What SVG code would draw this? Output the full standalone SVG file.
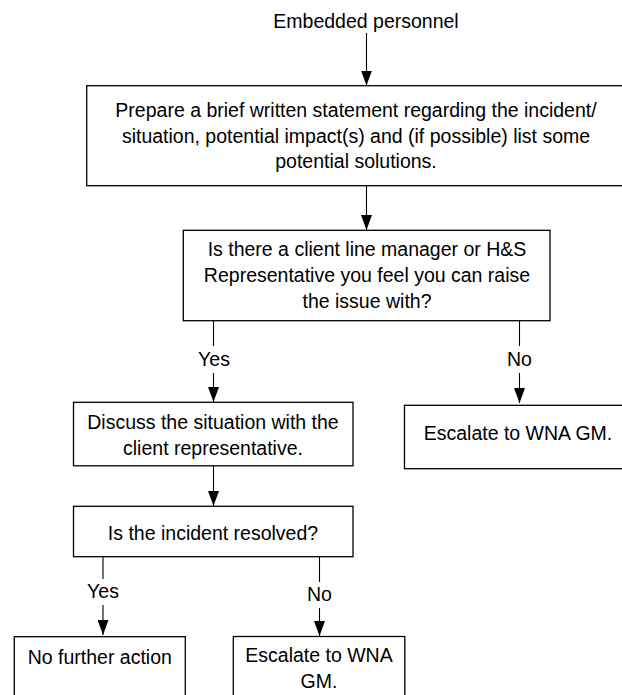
<svg xmlns="http://www.w3.org/2000/svg" width="622" height="695" viewBox="0 0 622 695">
<style>
text{font-family:"Liberation Sans",Arial,sans-serif;font-size:19.5px;fill:#000;text-anchor:middle}
.box{fill:#fff;stroke:#000;stroke-width:1.3}
.ln{stroke:#000;stroke-width:1.1;fill:none}
</style>
<defs>
<marker id="ah" viewBox="0 0 15 11" refX="15" refY="5.5" markerWidth="15" markerHeight="11" markerUnits="userSpaceOnUse" orient="auto">
<path d="M0,0 L15,5.5 L0,11 Z" fill="#000"/>
</marker>
</defs>
<rect width="622" height="695" fill="#fff"/>
<g id="connectors">
<line class="ln" x1="366.5" y1="33" x2="366.5" y2="85.5" marker-end="url(#ah)"/>
<line class="ln" x1="366.5" y1="186" x2="366.5" y2="230" marker-end="url(#ah)"/>
<line class="ln" x1="213.5" y1="321" x2="213.5" y2="346"/>
<line class="ln" x1="213.5" y1="373" x2="213.5" y2="402" marker-end="url(#ah)"/>
<line class="ln" x1="519.5" y1="321" x2="519.5" y2="346"/>
<line class="ln" x1="519.5" y1="373" x2="519.5" y2="403" marker-end="url(#ah)"/>
<line class="ln" x1="213.5" y1="466" x2="213.5" y2="506" marker-end="url(#ah)"/>
<line class="ln" x1="103" y1="557" x2="103" y2="579"/>
<line class="ln" x1="103" y1="605" x2="103" y2="635" marker-end="url(#ah)"/>
<line class="ln" x1="319.5" y1="557" x2="319.5" y2="582"/>
<line class="ln" x1="319.5" y1="608" x2="319.5" y2="636" marker-end="url(#ah)"/>
<text x="214" y="366">Yes</text>
<text x="519.5" y="366">No</text>
<text x="103" y="598">Yes</text>
<text x="319.5" y="601">No</text>
</g>
<g id="start">
<text x="366" y="28">Embedded personnel</text>
</g>
<g id="prepare">
<rect class="box" x="86.7" y="85.7" width="537" height="100"/>
<text x="356" y="117">Prepare a brief written statement regarding the incident/</text>
<text x="356" y="142.5">situation, potential impact(s) and (if possible) list some</text>
<text x="356" y="168">potential solutions.</text>
</g>
<g id="question1">
<rect class="box" x="183.3" y="230.3" width="366.7" height="90.4"/>
<text x="367" y="256">Is there a client line manager or H&amp;S</text>
<text x="367" y="282">Representative you feel you can raise</text>
<text x="367" y="308">the issue with?</text>
</g>
<g id="discuss">
<rect class="box" x="73.5" y="402.3" width="279.5" height="63.5"/>
<text x="213" y="428.5">Discuss the situation with the</text>
<text x="213" y="454.5">client representative.</text>
</g>
<g id="escalate1">
<rect class="box" x="404.5" y="405.3" width="230" height="63.4"/>
<text x="518" y="440">Escalate to WNA GM.</text>
</g>
<g id="question2">
<rect class="box" x="73.5" y="506.3" width="279.5" height="50.4"/>
<text x="213" y="540">Is the incident resolved?</text>
</g>
<g id="nofurther">
<rect class="box" x="14.3" y="636.7" width="171" height="70"/>
<text x="99.8" y="664">No further action</text>
</g>
<g id="escalate2">
<rect class="box" x="233.3" y="636.5" width="171.5" height="70"/>
<text x="319" y="661.5">Escalate to WNA</text>
<text x="319" y="688">GM.</text>
</g>
</svg>
